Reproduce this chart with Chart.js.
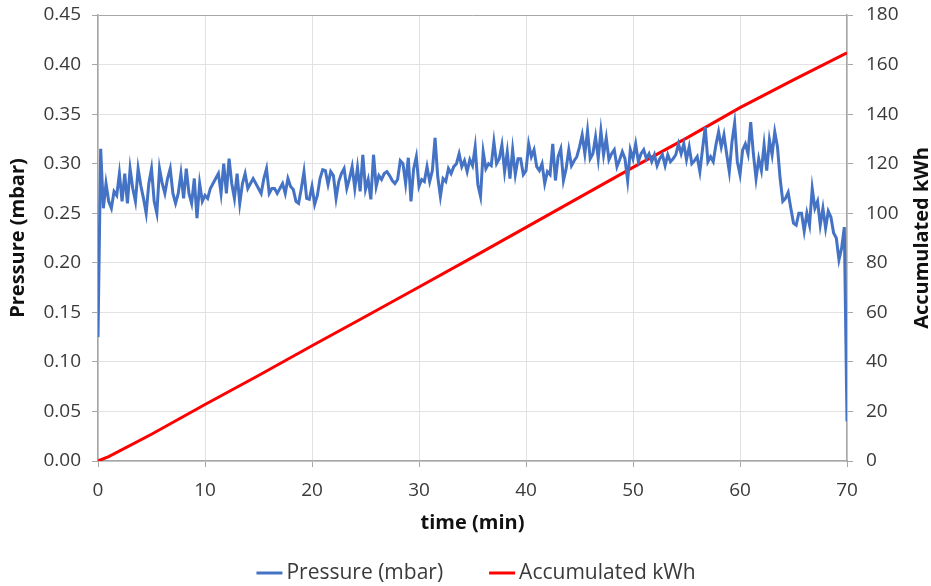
<!DOCTYPE html>
<html>
<head>
<meta charset="utf-8">
<script src="https://cdn.jsdelivr.net/npm/chart.js@4.4.0/dist/chart.umd.min.js"></script>
<style>
  body { margin: 0; background: #fff; }
  #wrap { width: 931px; height: 586px; }
</style>
</head>
<body>
<div id="wrap"><canvas id="chartCanvas"></canvas></div>
<script>
// pressure sampled every 0.25 min from 0 to 70
const timeStep = 0.25;
const pressure = [
  0.125, 0.315, 0.255, 0.28, 0.262, 0.255, 0.272, 0.268, 0.29, 0.262,
  0.29, 0.26, 0.295, 0.275, 0.262, 0.295, 0.278, 0.265, 0.25, 0.28,
  0.295, 0.262, 0.25, 0.295, 0.28, 0.27, 0.285, 0.295, 0.27, 0.26,
  0.27, 0.29, 0.265, 0.295, 0.27, 0.26, 0.285, 0.245, 0.28, 0.262,
  0.268, 0.265,
  0.275, 0.28, 0.285, 0.29, 0.27, 0.30, 0.27, 0.305, 0.28, 0.265,
  0.29, 0.26, 0.28, 0.29, 0.275, 0.28, 0.285, 0.28, 0.275, 0.27,
  0.285, 0.295, 0.27, 0.275, 0.275, 0.27, 0.275, 0.28, 0.27,
  0.285, 0.277, 0.274, 0.262, 0.26, 0.275, 0.292, 0.265, 0.264, 0.277,
  0.259, 0.268, 0.285, 0.294, 0.293, 0.279, 0.292, 0.288, 0.265, 0.282,
  0.29, 0.295, 0.275, 0.285, 0.297, 0.275, 0.296, 0.272, 0.309, 0.274,
  0.284, 0.264, 0.309, 0.277, 0.288, 0.284, 0.29, 0.292, 0.288, 0.283,
  0.28, 0.284, 0.303, 0.30, 0.28, 0.306, 0.262, 0.295, 0.307, 0.277,
  0.284, 0.282, 0.297, 0.282, 0.293, 0.326, 0.287, 0.267, 0.285, 0.282,
  0.295, 0.29, 0.297, 0.30, 0.31, 0.297, 0.303, 0.292, 0.304, 0.298,
  0.317, 0.279, 0.267, 0.312, 0.295, 0.30, 0.298, 0.322, 0.30, 0.305,
  0.319, 0.292, 0.312, 0.285, 0.314, 0.289, 0.305, 0.305, 0.289, 0.293,
  0.32, 0.307, 0.314, 0.297, 0.293, 0.30, 0.28, 0.292, 0.289, 0.32,
  0.283, 0.307, 0.315, 0.283, 0.295, 0.314, 0.298, 0.303, 0.307, 0.317,
  0.329, 0.31, 0.333, 0.305, 0.31, 0.327, 0.305, 0.333, 0.309, 0.326,
  0.304, 0.31, 0.314, 0.297, 0.304, 0.312, 0.305, 0.283, 0.314, 0.305,
  0.32, 0.302, 0.31, 0.314, 0.305, 0.31, 0.302, 0.309, 0.298, 0.305,
  0.309, 0.298, 0.309, 0.302, 0.305, 0.309, 0.32, 0.31, 0.32, 0.304,
  0.317, 0.30, 0.303, 0.307, 0.292, 0.315, 0.337, 0.302, 0.307, 0.302,
  0.319, 0.332, 0.317, 0.329, 0.31, 0.292, 0.322, 0.341, 0.302, 0.289,
  0.314, 0.32, 0.31, 0.342, 0.31, 0.285, 0.305, 0.293, 0.319, 0.293,
  0.324, 0.309, 0.332, 0.317, 0.285, 0.262, 0.265, 0.271, 0.255, 0.24,
  0.238, 0.25, 0.25, 0.232, 0.25, 0.238, 0.275, 0.255, 0.262, 0.238,
  0.255, 0.235, 0.252, 0.246, 0.23, 0.225, 0.203, 0.215, 0.236, 0.04
];

const kwhTimes = [0, 1, 5, 10, 15, 20, 25, 30, 35, 40, 45, 50, 55, 60, 65, 70];
const kwhValues = [0, 1.8, 10.8, 22.8, 34.5, 46.5, 58.3, 70.2, 82.2, 94.3, 106.4, 118.5, 130.3, 142.6, 153.8, 164.7];

const xTicks = [0, 10, 20, 30, 40, 50, 60, 70];
const pressureTicks = [0, 0.05, 0.1, 0.15, 0.2, 0.25, 0.3, 0.35, 0.4, 0.45];
const kwhTicks = [0, 20, 40, 60, 80, 100, 120, 140, 160, 180];

const seriesNames = ["Pressure (mbar)", "Accumulated kWh"];
const colors = ["#4472C4", "#FF0000"];

const FONT = "'Open Sans', sans-serif";
const TICK_COLOR = "#3a3a3a";
const AXIS_COLOR = "#a6a6a6";
const GRID_COLOR = "#e2e2e2";

const pressurePoints = pressure.map((v, i) => ({ x: i * timeStep, y: v }));
const kwhPoints = kwhTimes.map((t, i) => ({ x: t, y: kwhValues[i] }));

// titles and legend drawn by hand so they sit where Excel put them
const extras = {
  id: "extras",
  afterDraw(chart) {
    const ctx = chart.ctx;
    const area = chart.chartArea;
    const midY = (area.top + area.bottom) / 2;
    ctx.save();
    ctx.fillStyle = "#111";
    ctx.font = "bold 20px " + FONT;
    ctx.textAlign = "center";
    ctx.textBaseline = "middle";

    ctx.save();
    ctx.translate(18, midY);
    ctx.rotate(-Math.PI / 2);
    ctx.fillText("Pressure (mbar)", 0, 0);
    ctx.restore();

    ctx.save();
    ctx.translate(922, midY);
    ctx.rotate(-Math.PI / 2);
    ctx.fillText("Accumulated kWh", 0, 0);
    ctx.restore();

    ctx.fillText("time (min)", (area.left + area.right) / 2, 523);

    // legend
    ctx.font = "21px " + FONT;
    ctx.fillStyle = TICK_COLOR;
    ctx.textAlign = "left";
    const w0 = ctx.measureText(seriesNames[0]).width;
    const w1 = ctx.measureText(seriesNames[1]).width;
    const sample = 26, gap = 4, between = 46;
    const total = sample + gap + w0 + between + sample + gap + w1;
    let x = 476 - total / 2;
    const y = 573;
    [w0, w1].forEach((w, i) => {
      ctx.strokeStyle = colors[i];
      ctx.lineWidth = 3;
      ctx.beginPath();
      ctx.moveTo(x, y);
      ctx.lineTo(x + sample, y);
      ctx.stroke();
      ctx.fillText(seriesNames[i], x + sample + gap, y);
      x += sample + gap + w + between;
    });
    ctx.restore();
  }
};

const noVPad = (axis, width) => {
  axis.width = width;
  axis.paddingTop = 0;
  axis.paddingBottom = 0;
};

new Chart(document.getElementById("chartCanvas"), {
  type: "line",
  data: {
    datasets: [
      {
        label: seriesNames[0],
        data: pressurePoints,
        borderColor: colors[0],
        borderWidth: 3,
        pointRadius: 0,
        tension: 0,
        yAxisID: "y",
      },
      {
        label: seriesNames[1],
        data: kwhPoints,
        borderColor: colors[1],
        borderWidth: 3,
        pointRadius: 0,
        tension: 0,
        yAxisID: "y1",
      },
    ],
  },
  options: {
    responsive: true,
    maintainAspectRatio: false,
    animation: false,
    layout: { padding: { top: 15, left: 0, right: 0, bottom: 0 } },
    plugins: {
      legend: { display: false },
      tooltip: { enabled: false },
    },
    scales: {
      x: {
        type: "linear",
        min: 0,
        max: 70,
        afterBuildTicks: (axis) => { axis.ticks = xTicks.map((v) => ({ value: v })); },
        afterFit: (axis) => {
          axis.height = 125;
          axis.paddingLeft = 0;
          axis.paddingRight = 0;
        },
        ticks: { font: { family: FONT, size: 19 }, color: TICK_COLOR, padding: 12, maxRotation: 0 },
        grid: { color: GRID_COLOR, tickColor: AXIS_COLOR, tickLength: 6 },
        border: { color: AXIS_COLOR, width: 1.5 },
      },
      y: {
        position: "left",
        min: 0,
        max: 0.45,
        afterBuildTicks: (axis) => { axis.ticks = pressureTicks.map((v) => ({ value: v })); },
        afterFit: (axis) => noVPad(axis, 98),
        ticks: {
          font: { family: FONT, size: 19 },
          color: TICK_COLOR,
          padding: 11,
          callback: (v) => v.toFixed(2),
        },
        grid: {
          color: (c) => (c.tick && c.tick.value === 0.45 ? AXIS_COLOR : GRID_COLOR),
          tickColor: AXIS_COLOR,
          tickLength: 6,
        },
        border: { color: AXIS_COLOR, width: 1.5 },
      },
      y1: {
        position: "right",
        min: 0,
        max: 180,
        afterBuildTicks: (axis) => { axis.ticks = kwhTicks.map((v) => ({ value: v })); },
        afterFit: (axis) => noVPad(axis, 84),
        ticks: { font: { family: FONT, size: 19 }, color: TICK_COLOR, padding: 13 },
        grid: { drawOnChartArea: false, tickColor: AXIS_COLOR, tickLength: 6 },
        border: { color: AXIS_COLOR, width: 1.5 },
      },
    },
  },
  plugins: [extras],
});
</script>
</body>
</html>
